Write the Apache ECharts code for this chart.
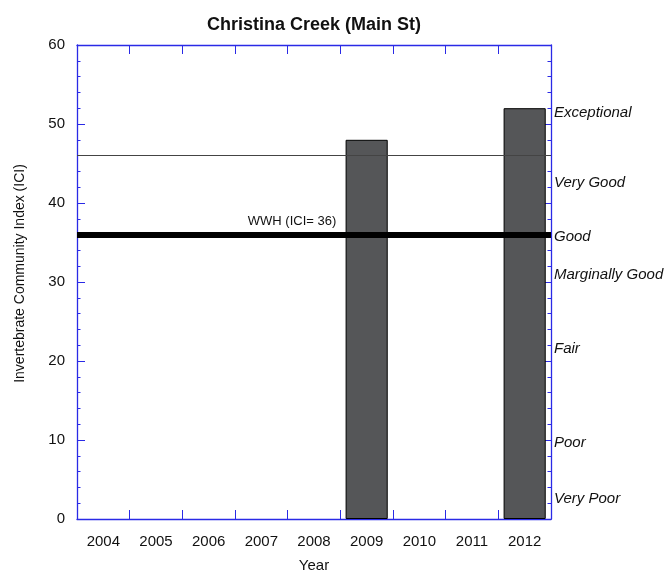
<!DOCTYPE html>
<html>
<head>
<meta charset="utf-8">
<script src="https://cdn.jsdelivr.net/npm/echarts@6/dist/echarts.min.js"></script>
<style>
  html, body { margin: 0; padding: 0; background: #fff; }
  #chart { width: 672px; height: 580px; }
</style>
</head>
<body>
<div id="chart"></div>
<script>
// 数据
const years = ['2004', '2005', '2006', '2007', '2008', '2009', '2010', '2011', '2012']
const iciValues = [null, null, null, null, null, 48, null, null, 52]
const ratingNames = ['Exceptional', 'Very Good', 'Good', 'Marginally Good', 'Fair', 'Poor', 'Very Poor']
const ratingLevels = [51.4, 42.5, 35.7, 30.9, 21.6, 9.7, 2.5]
const wwhValue = 36
const upperLine = 46

const blue = '#2a2ae6'
const font = 'Liberation Sans, Arial, sans-serif'

let mycharts = echarts.init(document.getElementById('chart'))

// 右侧评级文字, 用透明的 markLine 放到对应数值处
const ratingMarks = ratingNames.map((name, i) => ({
    yAxis: ratingLevels[i],
    lineStyle: { width: 0, color: 'transparent' },
    label: {
        show: true,
        position: 'end',
        distance: 3,
        formatter: name,
        fontStyle: 'italic',
        fontSize: 15,
        fontFamily: font,
        color: '#111'
    }
}))

// 轴的公共样式
const xAxisBase = {
    type: 'category',
    data: years,
    boundaryGap: true,
    axisLine: { show: true, onZero: false, lineStyle: { color: blue, width: 1.3 } },
    axisTick: { show: true, inside: true, length: 9, alignWithLabel: false, lineStyle: { color: blue, width: 1 } },
    splitLine: { show: false }
}
const yAxisBase = {
    type: 'value',
    min: 0,
    max: 60,
    interval: 10,
    axisLine: { show: true, onZero: false, lineStyle: { color: blue, width: 1.3 } },
    axisTick: { show: true, inside: true, length: 8, lineStyle: { color: blue, width: 1 } },
    minorTick: { show: true, splitNumber: 5, length: 3.5, lineStyle: { color: blue, width: 1 } },
    splitLine: { show: false },
    minorSplitLine: { show: false }
}

mycharts.setOption({
    animation: false,
    title: {
        text: 'Christina Creek (Main St)',
        left: 309,
        textAlign: 'center',
        top: 11,
        textStyle: { fontSize: 18, fontWeight: 'bold', fontFamily: font, color: '#111' }
    },
    grid: { left: 77, right: 121, top: 45, bottom: 61, show: false },
    xAxis: [
        Object.assign({}, xAxisBase, {
            position: 'bottom',
            name: 'Year',
            nameLocation: 'middle',
            nameGap: 39,
            nameTextStyle: { fontSize: 15, fontFamily: font, color: '#111' },
            axisLabel: { show: true, fontSize: 15, fontFamily: font, color: '#111', margin: 15 }
        }),
        Object.assign({}, xAxisBase, {
            position: 'top',
            axisLabel: { show: false }
        })
    ],
    yAxis: [
        Object.assign({}, yAxisBase, {
            position: 'left',
            name: 'Invertebrate Community Index (ICI)',
            nameLocation: 'middle',
            nameGap: 50,
            nameTextStyle: { fontSize: 14, fontFamily: font, color: '#111', padding: [0, 0, 0, 17] },
            axisLabel: { show: true, fontSize: 15, fontFamily: font, color: '#111', margin: 12 }
        }),
        Object.assign({}, yAxisBase, {
            position: 'right',
            axisLabel: { show: false }
        })
    ],
    series: [
        {
            type: 'bar',
            data: iciValues,
            barWidth: '80%',
            silent: true,
            itemStyle: { color: '#555658', borderColor: '#000', borderWidth: 1 },
            markLine: {
                silent: true,
                symbol: 'none',
                animation: false,
                data: [
                    {
                        yAxis: upperLine,
                        lineStyle: { color: '#444', width: 1, type: 'solid' },
                        label: { show: false }
                    },
                    {
                        yAxis: wwhValue,
                        lineStyle: { color: '#000', width: 6, type: 'solid' },
                        label: {
                            show: true,
                            position: 'insideMiddleTop',
                            distance: 7,
                            offset: [-22, 0],
                            formatter: 'WWH (ICI= ' + wwhValue + ')',
                            fontSize: 13,
                            fontFamily: font,
                            color: '#111'
                        }
                    },
                    ...ratingMarks
                ]
            }
        }
    ]
})
</script>
</body>
</html>
